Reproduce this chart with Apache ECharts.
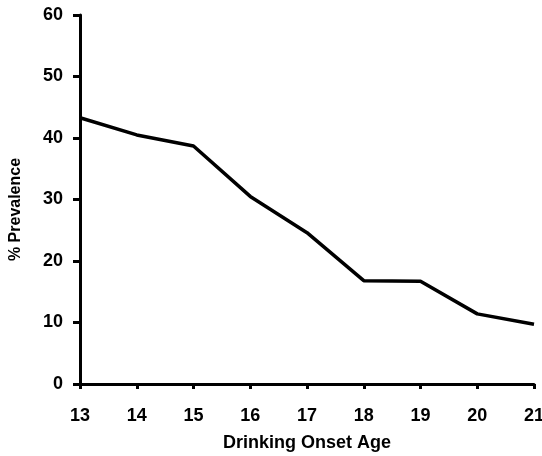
<!DOCTYPE html>
<html>
<head>
<meta charset="utf-8">
<script src="https://cdn.jsdelivr.net/npm/echarts@6/dist/echarts.min.js"></script>
<style>
  html, body { margin: 0; padding: 0; background: #fff; }
  #chart { width: 542px; height: 456px; }
</style>
</head>
<body>
<div id="chart"></div>
<script>
// 数据
var ages = [13, 14, 15, 16, 17, 18, 19, 20, 21];
var prevalence = [43.3, 40.5, 38.7, 30.5, 24.6, 16.8, 16.7, 11.4, 9.7];
var yTicks = [0, 10, 20, 30, 40, 50, 60];

var chart = echarts.init(document.getElementById('chart'));
var font = 'Liberation Sans, Arial, sans-serif';

var points = ages.map(function (a, i) { return [a, prevalence[i]]; });

chart.setOption({
    animation: false,
    grid: { left: 80, right: 8, top: 15, bottom: 72, outerBoundsMode: 'none' },
    xAxis: {
        type: 'value',
        min: 13, max: 21, interval: 1,
        name: 'Drinking Onset Age',
        nameLocation: 'middle',
        nameGap: 50,
        nameTextStyle: { color: '#000', fontWeight: 'bold', fontSize: 18, fontFamily: font },
        axisLine: { show: true, lineStyle: { color: '#000', width: 3 } },
        axisTick: { show: true, length: 5, lineStyle: { color: '#000', width: 3 } },
        axisLabel: { color: '#000', fontWeight: 'bold', fontSize: 18, fontFamily: font, margin: 23 },
        splitLine: { show: false }
    },
    yAxis: {
        type: 'value',
        min: yTicks[0], max: yTicks[yTicks.length - 1], interval: 10,
        name: '% Prevalence',
        nameLocation: 'middle',
        nameRotate: 90,
        nameGap: 56,
        nameTextStyle: { color: '#000', fontWeight: 'bold', fontSize: 16, fontFamily: font, padding: [0, 20, 0, 0] },
        axisLine: { show: true, lineStyle: { color: '#000', width: 3 } },
        axisTick: { show: true, length: 7, lineStyle: { color: '#000', width: 3 } },
        axisLabel: { color: '#000', fontWeight: 'bold', fontSize: 18, fontFamily: font, margin: 17 },
        splitLine: { show: false }
    },
    series: [{
        type: 'line',
        data: points,
        symbol: 'none',
        lineStyle: { color: '#000', width: 3.5 }
    }]
});
</script>
</body>
</html>
